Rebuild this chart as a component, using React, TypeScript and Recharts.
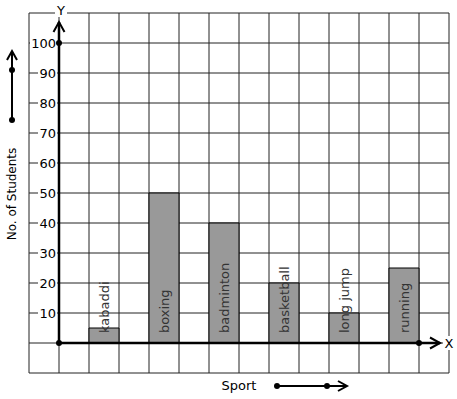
import React from 'react';
import { BarChart, Bar, XAxis, YAxis, CartesianGrid, LabelList } from 'recharts';

const sports = ['kabaddi', 'boxing', 'badminton', 'basketball', 'long jump', 'running'];
const students = [5, 50, 40, 20, 10, 25];
const yTicks = [-10, 0, 10, 20, 30, 40, 50, 60, 70, 80, 90, 100, 110];
const yLabels = [10, 20, 30, 40, 50, 60, 70, 80, 90, 100];

const data = sports.map((name, i) => ({ name, value: students[i] }));

const W = 457;
const H = 399;
const margin = { top: 13, right: 8, bottom: 26, left: 28 };
const CELL = 30;
const FONT = 'DejaVu Sans, sans-serif';

// pixel helpers for the hand-drawn axes (same frame as the plot area)
const LEFT = 29;
const yPx = (v: number) => margin.top + (110 - v) * 3;
const colPx = (c: number) => LEFT + c * CELL;

function YTick(props: any) {
  const { y, payload } = props;
  if (!yLabels.includes(payload.value)) return null;
  const label = String(payload.value);
  const right = 56;
  const w = label.length * 8 + 2;
  return (
    <g>
      <rect x={right - w} y={y - 7} width={w + 1} height={14} fill="#fff" />
      <text x={right} y={y} textAnchor="end" dominantBaseline="central" fontSize={13} fontFamily={FONT} fill="#000">
        {label}
      </text>
    </g>
  );
}

function BarText(props: any) {
  const { x, y, width, height, value } = props;
  const cx = x + width / 2;
  const by = y + height - 10;
  return (
    <text
      x={cx}
      y={by}
      transform={`rotate(-90 ${cx} ${by})`}
      textAnchor="start"
      dominantBaseline="central"
      fontSize={13}
      fontFamily={FONT}
      fill="#333"
    >
      {value}
    </text>
  );
}

export default function App() {
  const ox = colPx(1);
  const oy = yPx(0);
  const yTop = yPx(107);
  const xEnd = colPx(13.7);
  return (
    <div style={{ position: 'absolute', left: 0, top: 0, width: W, height: H, background: '#fff' }}>
      <BarChart width={W} height={H} data={data} margin={margin}>
        <CartesianGrid
          stroke="#222"
          strokeWidth={1}
          verticalCoordinatesGenerator={({ offset }: any) => {
            const xs: number[] = [];
            for (let x = offset.left; x <= offset.left + offset.width + 0.5; x += CELL) xs.push(x);
            return xs;
          }}
        />
        <XAxis dataKey="name" hide padding={{ left: 45, right: 15 }} />
        <YAxis
          type="number"
          domain={[-10, 110]}
          ticks={yTicks}
          allowDataOverflow
          width={1}
          axisLine={false}
          tickLine={false}
          tick={<YTick />}
          interval={0}
        />
        <Bar dataKey="value" fill="#999" stroke="#000" strokeWidth={1} barSize={30} isAnimationActive={false}>
          <LabelList dataKey="name" content={<BarText />} />
        </Bar>
      </BarChart>
      <svg
        width={W}
        height={H}
        style={{ position: 'absolute', left: 0, top: 0, pointerEvents: 'none' }}
        fontFamily={FONT}
      >
        {/* axes */}
        <line x1={ox} y1={oy} x2={ox} y2={yTop} stroke="#000" strokeWidth={2.5} />
        <polyline points={`${ox - 5.5},${yTop + 10} ${ox},${yTop} ${ox + 5.5},${yTop + 10}`} fill="none" stroke="#000" strokeWidth={2} />
        <line x1={ox} y1={oy} x2={xEnd} y2={oy} stroke="#000" strokeWidth={2.5} />
        <polyline points={`${xEnd - 10},${oy - 5.5} ${xEnd},${oy} ${xEnd - 10},${oy + 5.5}`} fill="none" stroke="#000" strokeWidth={2} />
        <circle cx={ox} cy={yPx(100)} r={3} fill="#000" />
        <circle cx={ox} cy={oy} r={3} fill="#000" />
        <circle cx={colPx(13)} cy={oy} r={3} fill="#000" />
        <rect x={55} y={3} width={12} height={14} fill="#fff" />
        <text x={61} y={10} textAnchor="middle" dominantBaseline="central" fontSize={13}>Y</text>
        <rect x={443} y={336} width={12} height={14} fill="#fff" />
        <text x={449} y={343} textAnchor="middle" dominantBaseline="central" fontSize={13}>X</text>
        {/* titles */}
        <text
          x={12}
          y={194}
          transform="rotate(-90 12 194)"
          textAnchor="middle"
          dominantBaseline="central"
          fontSize={12}
        >
          No. of Students
        </text>
        <line x1={12} y1={120} x2={12} y2={51} stroke="#000" strokeWidth={2} />
        <polyline points="7,60 12,51 17,60" fill="none" stroke="#000" strokeWidth={2} />
        <circle cx={12} cy={120} r={3} fill="#000" />
        <circle cx={12} cy={70} r={3} fill="#000" />
        <text x={239} y={385} textAnchor="middle" dominantBaseline="central" fontSize={13}>Sport</text>
        <line x1={277} y1={386} x2={347} y2={386} stroke="#000" strokeWidth={2} />
        <polyline points="338,381 347,386 338,391" fill="none" stroke="#000" strokeWidth={2} />
        <circle cx={277} cy={386} r={3} fill="#000" />
        <circle cx={327} cy={386} r={3} fill="#000" />
      </svg>
    </div>
  );
}
